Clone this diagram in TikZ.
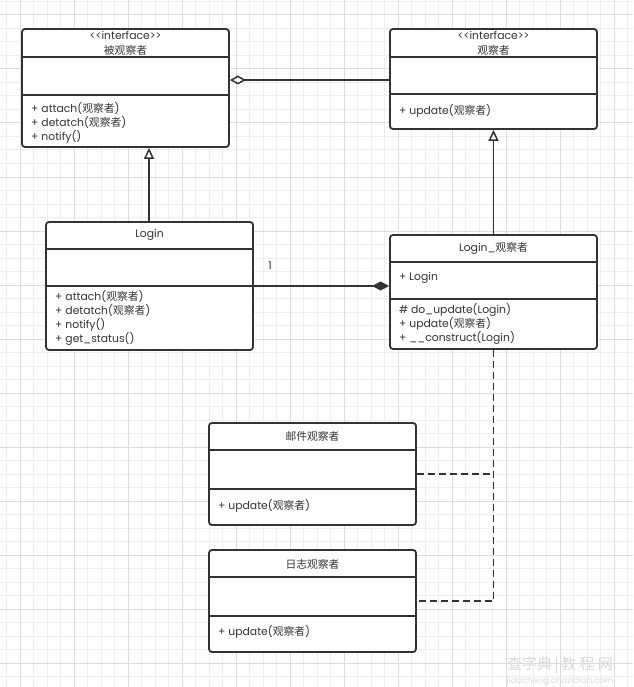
\documentclass[tikz,border=0pt]{standalone}
\usepackage{fontspec}
\setmainfont{Poppins}
\newfontfamily\cjk{Noto Sans CJK SC}
\usetikzlibrary{arrows.meta,fit}
\newcommand\zh[1]{{\cjk #1}}
\definecolor{ink}{HTML}{333333}
\definecolor{gridmajor}{HTML}{DDDDDD}
\definecolor{gridminor}{HTML}{EEEEEE}
\definecolor{wm}{HTML}{DADADA}
\tikzset{
  umlbox/.style={draw=ink, line width=1.8pt, rounded corners=3pt, fill=white, inner sep=0pt},
  divider/.style={draw=ink, line width=1.5pt},
  txt/.style={text=ink, inner sep=0pt, font=\fontsize{10.8}{14}\selectfont},
  members/.style={txt, align=left, anchor=west},
  conn/.style={draw=ink, line width=1.8pt},
  inherit/.style={conn, -{Triangle[open, length=11pt, width=10pt, line width=1.5pt]}},
  aggr/.style={conn, {Diamond[open, length=16pt, width=9pt, line width=1.5pt]}-},
  compo/.style={conn, -{Diamond[length=17pt, width=9pt]}},
  realize/.style={conn, dash pattern=on 7pt off 4pt},
}
\newcommand\umlclass[7]{%
  \node[umlbox, fit={(#2,#3) (#4,#5)}] (#1) {};
  \draw[divider] (#2,#6) -- (#4,#6);
  \draw[divider] (#2,#7) -- (#4,#7);
}
\newcommand\stereo{{<}{<}interface{>}{>}}
\begin{document}
\begin{tikzpicture}[x=1pt,y=-1pt]
\useasboundingbox (0,0) rectangle (633,687);
\fill[white] (0,0) rectangle (633,687);
% grid
\foreach \i in {-1,...,46} \draw[gridminor, line width=1pt] ({20+13.5*\i},0) -- ++(0,687);
\foreach \j in {-1,...,50} \draw[gridminor, line width=1pt] (0,{15+13.5*\j}) -- ++(633,0);
\foreach \i in {0,...,11} \draw[gridmajor, line width=1pt] ({20+54*\i},0) -- ++(0,687);
\foreach \j in {0,...,12} \draw[gridmajor, line width=1pt] (0,{15+54*\j}) -- ++(633,0);

% classes
\umlclass{sub}{22}{29}{229}{147}{57}{95}
\umlclass{obs}{390}{29}{597}{129}{57}{94}
\umlclass{login}{46}{222}{253}{350}{249}{286}
\umlclass{lobs}{390}{235}{597}{349}{262}{299}
\umlclass{mail}{209}{423}{416}{525}{450}{489}
\umlclass{log}{209}{550}{416}{652}{577}{616}

% texts
\node[txt] (subst) at (125.5,35.5) {\stereo};
\node[txt] (subname) at (125.5,50.5) {\zh{被观察者}};
\node[members] (subm) at (31,123.3) {+ attach(\zh{观察者})\\+ detatch(\zh{观察者})\\+ notify()};

\node[txt] (obsst) at (493.5,35.5) {\stereo};
\node[txt] (obsname) at (493.5,50.5) {\zh{观察者}};
\node[members] (obsm) at (399,110.7) {+ update(\zh{观察者})};

\node[txt] (loginname) at (149.5,235) {Login};
\node[members] (loginm) at (55,318) {+ attach(\zh{观察者})\\+ detatch(\zh{观察者})\\+ notify()\\+ get\_status()};

\node[txt] (lobsname) at (493.5,248.3) {Login\_\zh{观察者}};
\node[members] (lobsa) at (399,277.7) {+ Login};
\node[members] (lobsm) at (399,324.3) {\# do\_update(Login)\\+ update(\zh{观察者})\\+ \_\_construct(Login)};

\node[txt] (mailname) at (312.5,436.7) {\zh{邮件观察者}};
\node[members] (mailm) at (218,505.7) {+ update(\zh{观察者})};

\node[txt] (logname) at (312.5,564) {\zh{日志观察者}};
\node[members] (logm) at (218,632.3) {+ update(\zh{观察者})};

% connectors
\coordinate (aggY) at (0,80);
\coordinate (compY) at (0,286);
\coordinate (inhX) at (149,0);
\draw[aggr] (sub.east |- aggY) -- (obs.west |- aggY);
\draw[inherit] (login.north -| inhX) -- (sub.south -| inhX);
\draw[inherit] (lobs.north) -- (obs.south);
\draw[compo] (login.east |- compY) -- (lobs.west |- compY);
\node[txt] (mult) at (270,266) {1};
\draw[realize] (lobs.south) -- (lobs.south |- log.east) -- (log.east);
\draw[realize] (mail.east) -- (mail.east -| lobs.south);

% watermark
\node[text=wm, inner sep=0pt, font=\cjk\fontsize{15}{15}\selectfont] (wm1) at (560,665) {查字典\,|\,教 程 网};
\node[text=wm, inner sep=0pt, font=\fontsize{8.5}{9}\selectfont] (wm2) at (560,681) {jiaocheng.chazidian.com};
\end{tikzpicture}
\end{document}
